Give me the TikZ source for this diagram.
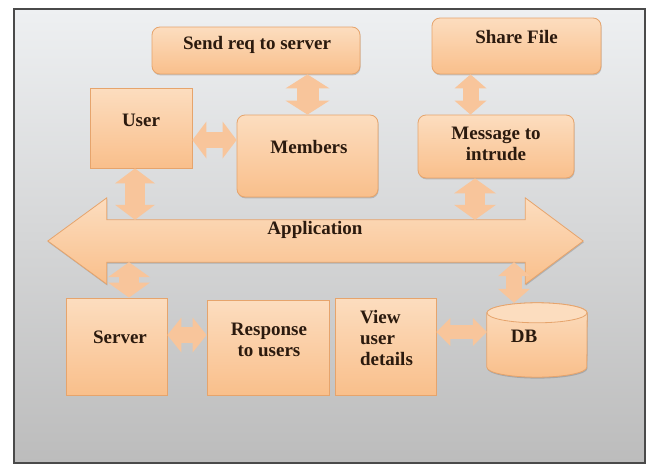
\documentclass[tikz,border=0pt]{standalone}
\usepackage{fontspec}
\setmainfont{Liberation Serif}
\usetikzlibrary{arrows.meta,shadows,calc}
\definecolor{boxtop}{HTML}{FCDDBF}
\definecolor{boxbot}{HTML}{F9BF8B}
\definecolor{boxline}{HTML}{E6A46C}
\definecolor{arrc}{HTML}{F8C59B}
\definecolor{txtc}{HTML}{2B1A0E}
\definecolor{bgtop}{HTML}{EEF0F2}
\definecolor{bgbot}{HTML}{BCBCBC}
\definecolor{framec}{HTML}{4A4A4A}
\begin{document}
\begin{tikzpicture}[x=1pt,y=-1pt,
  box/.style={draw=boxline, line width=0.8pt, top color=boxtop, bottom color=boxbot,
    inner sep=0pt, drop shadow={opacity=0.25, shadow xshift=0.6pt, shadow yshift=-1.4pt, fill=black!70}},
  rbox/.style={box, rounded corners=8pt},
  lbl/.style={font=\bfseries\fontsize{19}{21}\selectfont, text=txtc, inner sep=0pt, align=center},
  dbl/.style n args={3}{line width=#1, draw=arrc,
    {Triangle[length=#3,width=#2,line width=0pt]}-{Triangle[length=#3,width=#2,line width=0pt]}},
]
\useasboundingbox (0,0) rectangle (651,466);
% frame with background
\node[draw=framec, line width=1.2pt, top color=bgtop, bottom color=bgbot, inner sep=0pt,
  minimum width=631pt, minimum height=454pt] (frame) at (329.5,236) {};

% boxes
\node[rbox, minimum width=208pt, minimum height=47pt] (send) at (256,50.5) {};
\node[rbox, minimum width=169pt, minimum height=56pt] (share) at (516.5,46) {};
\node[box, minimum width=102pt, minimum height=80pt] (user) at (141,128) {};
\node[rbox, minimum width=141pt, minimum height=82pt] (members) at (307.5,156) {};
\node[rbox, minimum width=156pt, minimum height=63pt] (message) at (496,146.5) {};
\node[box, minimum width=101pt, minimum height=97pt] (server) at (116.5,346.5) {};
\node[box, minimum width=122pt, minimum height=95pt] (response) at (268,347.5) {};
\node[box, minimum width=101pt, minimum height=97pt] (view) at (385.5,346.5) {};

% DB cylinder
\node[inner sep=0pt, minimum width=100pt, minimum height=74pt] (db) at (537,340) {};
\path[box] ([yshift=-10pt]db.north west) -- ([yshift=10pt]db.south west)
  arc[start angle=180, end angle=360, x radius=50pt, y radius=10pt]
  -- ([yshift=-10pt]db.north east)
  arc[start angle=0, end angle=180, x radius=50pt, y radius=10pt] -- cycle;
\path[draw=boxline, line width=0.8pt, fill=boxtop] ([yshift=-10pt]db.north) ellipse [x radius=50pt, y radius=10pt];

% Application double arrow
\node[inner sep=0pt, minimum width=418pt, minimum height=42pt] (app) at (316,241) {};
\path[box] ([yshift=22pt]app.north west) -- ([xshift=-59pt]app.west) -- ([yshift=-22pt]app.south west)
  -- (app.south west) -- (app.south east) -- ([yshift=-22pt]app.south east)
  -- ([xshift=58pt]app.east) -- ([yshift=22pt]app.north east) -- (app.north east)
  -- (app.north west) -- cycle;

% texts
\node[lbl] (send-t) at ([xshift=1pt,yshift=5.5pt]send.center) {Send req to server};
\node[lbl] (share-t) at ([yshift=9pt]share.center) {Share File};
\node[lbl] (user-t) at ([yshift=8pt]user.center) {User};
\node[lbl] (members-t) at ([xshift=1.5pt,yshift=9pt]members.center) {Members};
\node[lbl] (message-t) at ([yshift=2.5pt]message.center) {Message to\\intrude};
\node[lbl] (app-t) at ([xshift=-1pt,yshift=11pt]app.center) {Application};
\node[lbl] (server-t) at ([xshift=3.5pt,yshift=9.5pt]server.center) {Server};
\node[lbl] (response-t) at ([xshift=1pt,yshift=7.5pt]response.center) {Response\\to users};
\node[lbl, align=left] (view-t) at ([xshift=1pt,yshift=8.5pt]view.center) {View\\user\\details};
\node[lbl] (db-t) at ([xshift=-13pt,yshift=4pt]db.center) {DB};

% connectors
\draw[dbl={22pt}{44pt}{14pt}] (members.north) -- (members.north |- send.south);
\draw[dbl={16pt}{37pt}{14pt}] ([yshift=-12pt]user.east) -- ([yshift=-12pt]user.east -| members.west);
\draw[dbl={20pt}{40pt}{15pt}] ([xshift=-6pt]user.south) -- ([xshift=-6pt]user.south |- app.north);
\draw[dbl={16pt}{32pt}{14pt}] ([xshift=-46pt]share.south) -- ([xshift=-46pt]share.south |- message.north);
\draw[dbl={20pt}{42pt}{15pt}] ([xshift=-21pt]message.south) -- ([xshift=-21pt]message.south |- app.north);
\draw[dbl={20pt}{42pt}{15pt}] ([xshift=12.5pt]server.north |- app.south) -- ([xshift=12.5pt]server.north);
\draw[dbl={16pt}{32pt}{14pt}] ([xshift=-23pt]db.north |- app.south) -- ([xshift=-23pt]db.north);
\draw[dbl={16pt}{35pt}{14pt}] ([yshift=11.5pt]server.east) -- ([yshift=11.5pt]server.east -| response.west);
\draw[dbl={14pt}{28pt}{14pt}] ([yshift=14.5pt]view.east) -- ([yshift=14.5pt]view.east -| db.west);
\end{tikzpicture}
\end{document}
